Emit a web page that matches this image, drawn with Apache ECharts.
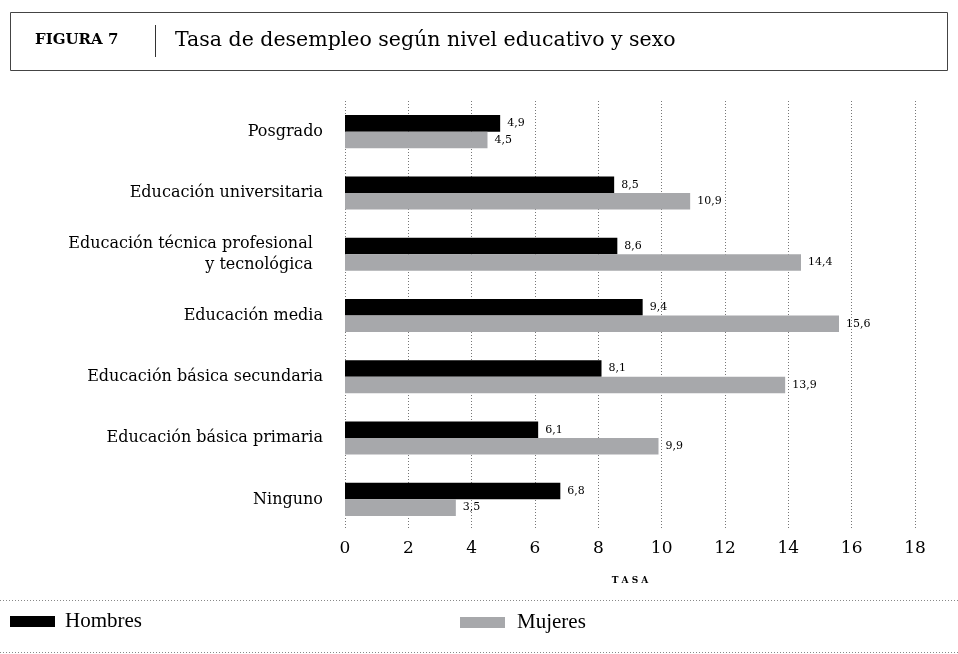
<!DOCTYPE html>
<html>
<head>
<meta charset="utf-8" />
<title>Tasa de desempleo</title>
<script src="https://cdn.jsdelivr.net/npm/echarts@6/dist/echarts.min.js"></script>
<style>
  body { margin: 0; background: #fff; }
  #chart { width: 958px; height: 654px; }
</style>
</head>
<body>
<div id="chart"></div>
<script>
var niveles = ['Posgrado', 'Educación universitaria', 'Educación técnica profesional  \ny tecnológica  ',
  'Educación media', 'Educación básica secundaria', 'Educación básica primaria', 'Ninguno'];
var hombres = [4.9, 8.5, 8.6, 9.4, 8.1, 6.1, 6.8];
var mujeres = [4.5, 10.9, 14.4, 15.6, 13.9, 9.9, 3.5];
var ticks = [0, 2, 4, 6, 8, 10, 12, 14, 16, 18];

var serif = '"DejaVu Serif", serif';
var times = '"Liberation Serif", serif';
var coma = function (p) { return String(p.value).replace('.', ','); };

var chart = echarts.init(document.getElementById('chart'));
chart.setOption({
  animation: false,
  textStyle: { fontFamily: serif },
  grid: { left: 345, right: 43, top: 101, bottom: 124 },
  xAxis: {
    type: 'value', min: ticks[0], max: ticks[ticks.length - 1], interval: 2,
    name: 'T A S A', nameLocation: 'middle', nameGap: 46,
    nameTextStyle: { fontFamily: serif, fontSize: 9, fontWeight: 'bold', color: '#000' },
    axisLine: { show: false }, axisTick: { show: false },
    axisLabel: { fontSize: 17, color: '#000', margin: 10 },
    splitLine: { show: true, lineStyle: { color: '#777', type: [1, 2], width: 1 } }
  },
  yAxis: {
    type: 'category', data: niveles, inverse: true,
    axisLine: { show: false }, axisTick: { show: false },
    axisLabel: { fontSize: 16, color: '#000', margin: 22, align: 'right', lineHeight: 21 }
  },
  legend: [
    { data: ['Hombres'], left: 10, top: 611, padding: 0, icon: 'rect', itemWidth: 45, itemHeight: 11,
      textStyle: { fontFamily: times, fontSize: 21, color: '#000', padding: [0, 0, 0, 5] } },
    { data: ['Mujeres'], left: 460, top: 612, padding: 0, icon: 'rect', itemWidth: 45, itemHeight: 11,
      textStyle: { fontFamily: times, fontSize: 21, color: '#000', padding: [0, 0, 0, 7] } }
  ],
  series: [
    { name: 'Hombres', type: 'bar', data: hombres, barGap: '0%', barCategoryGap: '46%',
      itemStyle: { color: '#000' },
      label: { show: true, position: 'right', distance: 7, fontSize: 11, color: '#000', formatter: coma } },
    { name: 'Mujeres', type: 'bar', data: mujeres,
      itemStyle: { color: '#a7a8ab' },
      label: { show: true, position: 'right', distance: 7, fontSize: 11, color: '#000', formatter: coma } }
  ],
  graphic: [
    { type: 'rect', shape: { x: 10.5, y: 12.5, width: 937, height: 58 },
      style: { fill: 'none', stroke: '#444', lineWidth: 1 } },
    { type: 'text', left: 35, top: 33,
      style: { text: 'FIGURA 7', font: 'bold 15px ' + serif, fill: '#000' } },
    { type: 'line', shape: { x1: 155.5, y1: 25, x2: 155.5, y2: 57 },
      style: { stroke: '#333', lineWidth: 1 } },
    { type: 'text', left: 175, top: 30,
      style: { text: 'Tasa de desempleo según nivel educativo y sexo', font: '20.5px ' + serif, fill: '#000' } },
    { type: 'line', shape: { x1: 0, y1: 600.5, x2: 958, y2: 600.5 },
      style: { stroke: '#888', lineWidth: 1, lineDash: [1, 2] } },
    { type: 'line', shape: { x1: 0, y1: 652.5, x2: 958, y2: 652.5 },
      style: { stroke: '#888', lineWidth: 1, lineDash: [1, 2] } }
  ]
});
</script>
</body>
</html>
